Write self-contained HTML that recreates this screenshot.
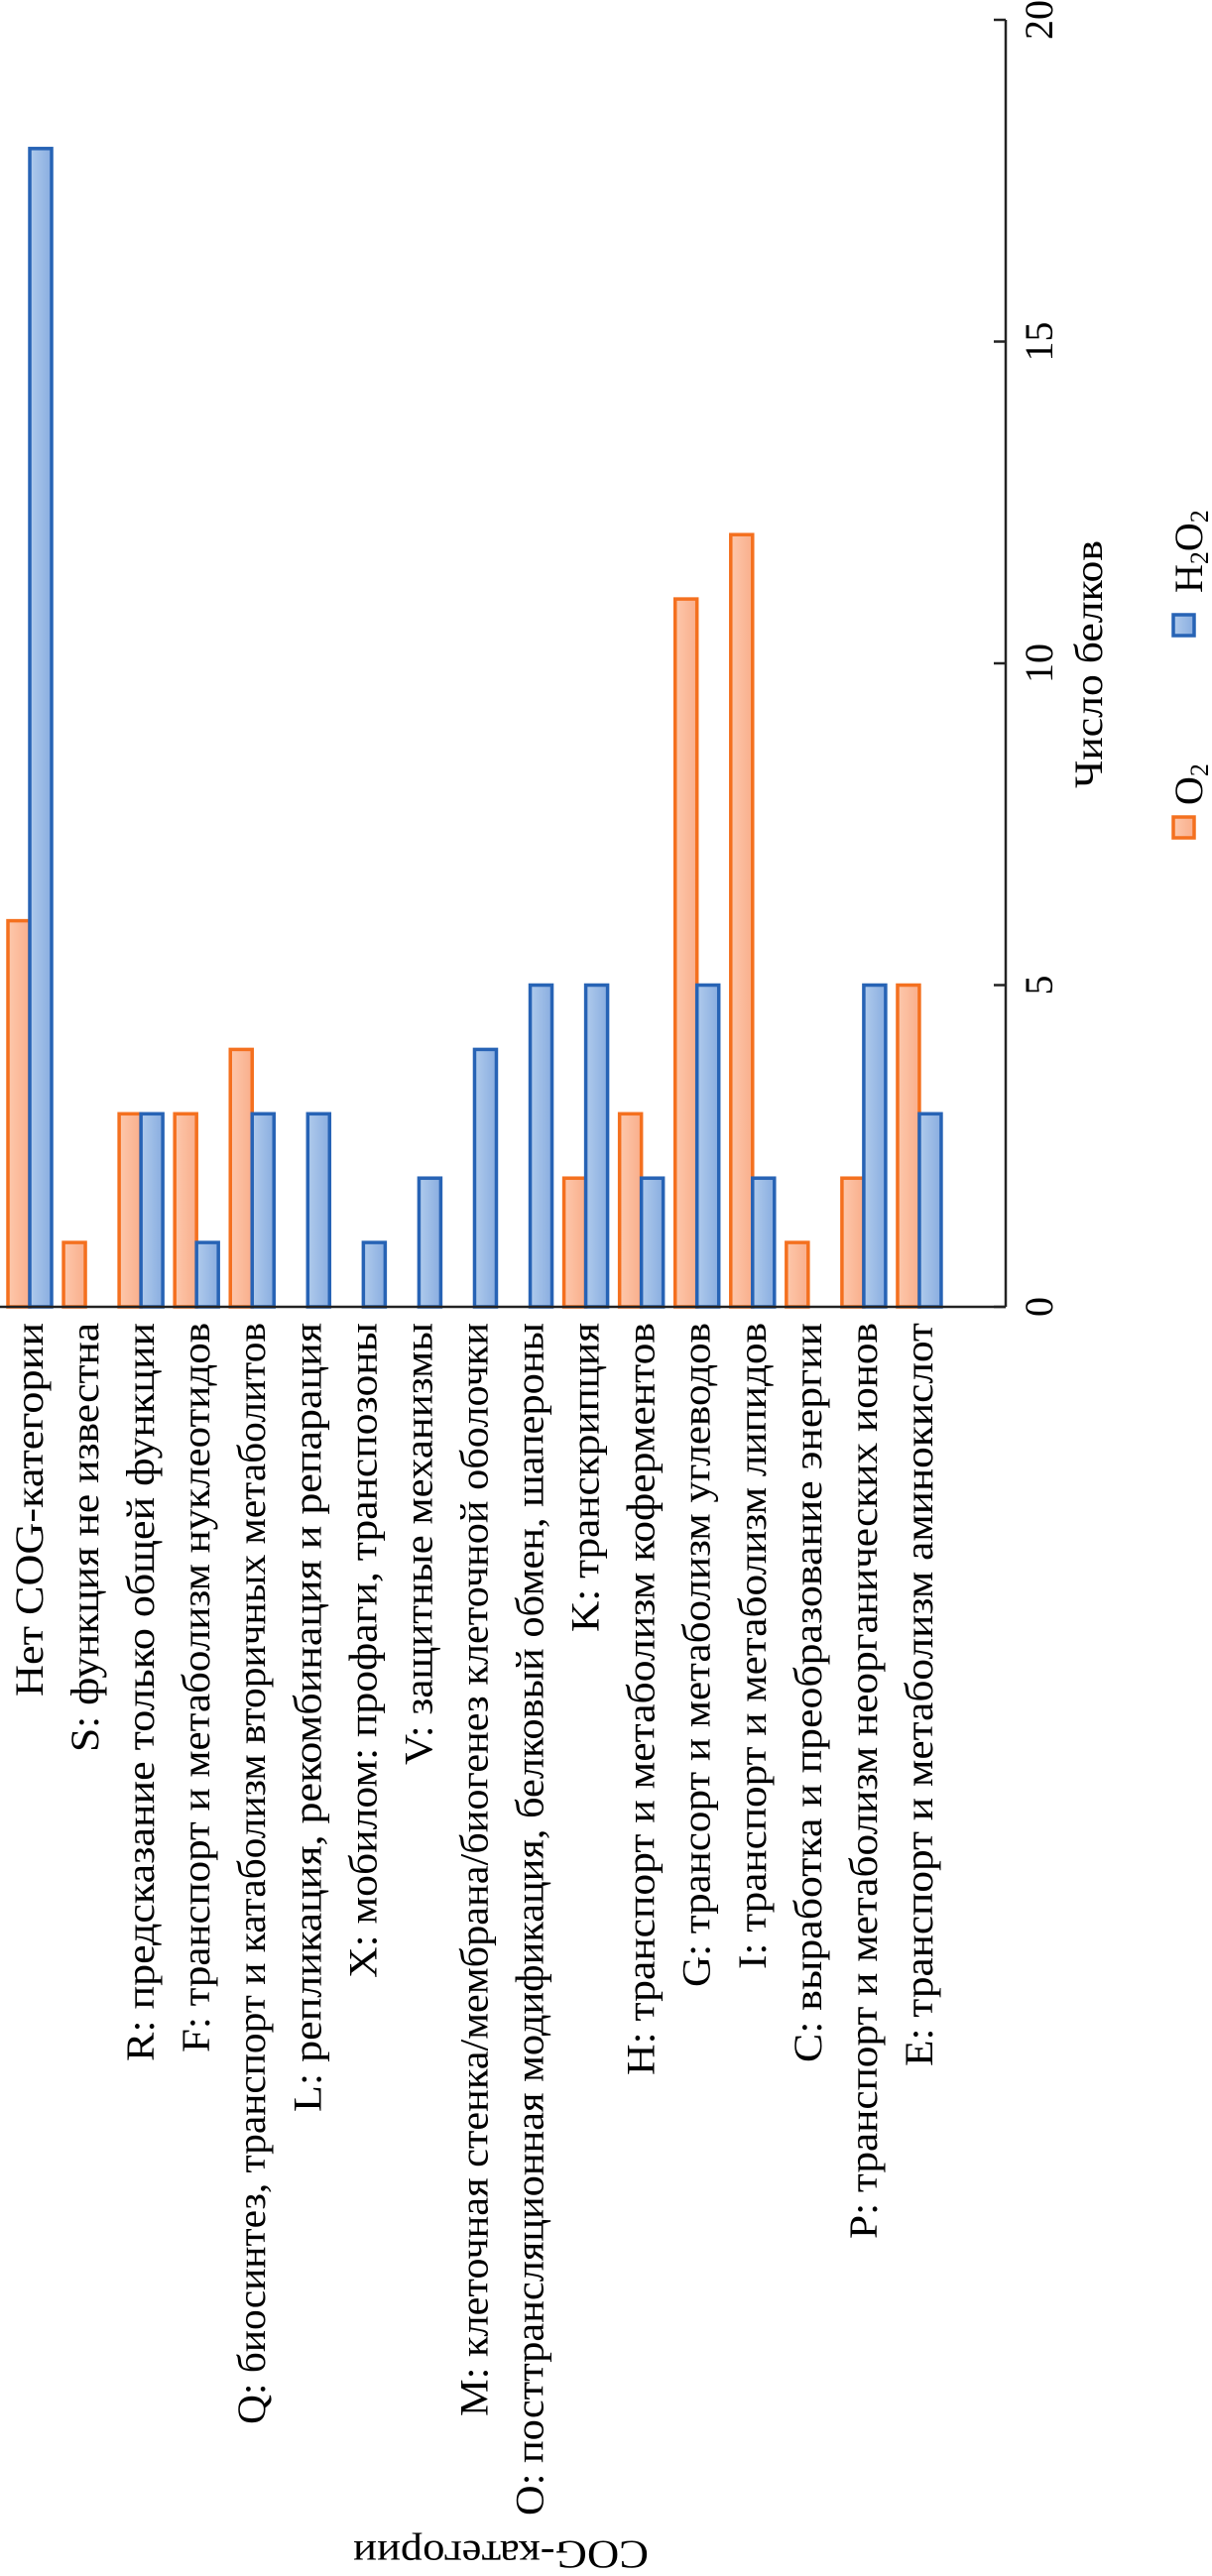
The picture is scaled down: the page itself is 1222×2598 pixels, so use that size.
<!DOCTYPE html>
<html><head><meta charset="utf-8"><style>
html,body{margin:0;padding:0;background:#fff;}
svg{display:block;font-family:"Liberation Serif",serif;}
</style></head><body>
<svg id="chart" width="1222" height="2598" viewBox="0 0 1222 2598" xmlns="http://www.w3.org/2000/svg">
<defs>
<linearGradient id="gO" x1="0" x2="1" y1="0" y2="0"><stop offset="0" stop-color="#fdc8ac"/><stop offset="1" stop-color="#f9ae8b"/></linearGradient>
<linearGradient id="gH" x1="0" x2="1" y1="0" y2="0"><stop offset="0" stop-color="#b0cbec"/><stop offset="1" stop-color="#89ade0"/></linearGradient>
</defs>
<g id="bars"></g>
<g id="axes"></g>
<g id="labels"></g>
<text transform="translate(1111,670) rotate(-90)" text-anchor="middle" font-size="40" textLength="250" lengthAdjust="spacingAndGlyphs">Число белков</text>
<text transform="translate(505,2563) rotate(180)" text-anchor="middle" font-size="40" textLength="298" lengthAdjust="spacingAndGlyphs">COG-категории</text>
<g>
<rect x="1183" y="824" width="21" height="21" fill="url(#gO)" stroke="#f4701f" stroke-width="3.5"/>
<text transform="translate(1212,812) rotate(-90)" font-size="40">O<tspan font-size="26" dy="6">2</tspan></text>
<rect x="1183" y="620" width="21" height="21" fill="url(#gH)" stroke="#2763b5" stroke-width="3.5"/>
<text transform="translate(1212,598) rotate(-90)" font-size="40">H<tspan font-size="26" dy="6">2</tspan><tspan dy="-6">O</tspan><tspan font-size="26" dy="6">2</tspan></text>
</g>
</svg>
<script>
const categories = ["Нет COG-категории","S: функция не известна","R: предсказание только общей функции","F: транспорт и метаболизм нуклеотидов","Q: биосинтез, транспорт и катаболизм вторичных метаболитов","L: репликация, рекомбинация и репарация","X: мобилом: профаги, транспозоны","V: защитные механизмы","M: клеточная стенка/мембрана/биогенез клеточной оболочки","O: посттрансляционная модификация, белковый обмен, шапероны","K: транскрипция","H: транспорт и метаболизм коферментов","G: трансорт и метаболизм углеводов","I: транспорт и метаболизм липидов","C: выработка и преобразование энергии","P: транспорт и метаболизм неорганических ионов","E: транспорт и метаболизм аминокислот"];
const o2Values = [6,1,3,3,4,0,0,0,0,0,2,3,11,12,1,2,5];
const h2o2Values = [18,0,3,1,3,3,1,2,4,5,5,2,5,2,0,5,3];
const tickValues = [0,5,10,15,20];
const labelLengths = [377,433,745,736,1111,796,661,446,1103,1203,312,759,670,652,746,924,750];

const NS="http://www.w3.org/2000/svg";
const y0=1318, yTop=20, vMax=20;
function yScale(v){return y0-(y0-yTop)*v/vMax;}
function xCenter(i){return 30+56.06*i;}
const bw=22;
function mk(tag,attrs,parent){const e=document.createElementNS(NS,tag);for(const k in attrs)e.setAttribute(k,attrs[k]);parent.appendChild(e);return e;}
const bars=document.getElementById('bars'),axes=document.getElementById('axes'),labels=document.getElementById('labels');
categories.forEach((c,i)=>{
  const cx=xCenter(i);
  if(o2Values[i]>0){
    const r=mk('rect',{x:cx-bw,y:yScale(o2Values[i]),width:bw,height:y0-yScale(o2Values[i]),fill:'url(#gO)',stroke:'#f4701f','stroke-width':3.5},bars);
    
    
  }
  if(h2o2Values[i]>0){
    const r=mk('rect',{x:cx,y:yScale(h2o2Values[i]),width:bw,height:y0-yScale(h2o2Values[i]),fill:'url(#gH)',stroke:'#2763b5','stroke-width':3.5},bars);
    
    
  }
  const t=mk('text',{transform:`translate(${cx+13},1334) rotate(-90)`,'text-anchor':'end','font-size':40,textLength:labelLengths[i],lengthAdjust:'spacingAndGlyphs'},labels);
  t.textContent=c;
  
  
});
const xl=mk('line',{x1:0,y1:y0,x2:1014,y2:y0,stroke:'#222','stroke-width':2.5},axes);


const yl=mk('line',{x1:1014,y1:yTop,x2:1014,y2:y0,stroke:'#222','stroke-width':2.5},axes);


tickValues.forEach(v=>{
  const y=yScale(v);
  const tk=mk('line',{x1:1002,y1:y,x2:1014,y2:y,stroke:'#222','stroke-width':2.5},axes);
  
  
  const tl=mk('text',{transform:`translate(1061,${y}) rotate(-90)`,'text-anchor':'middle','font-size':40},axes);
  tl.textContent=String(v);
  
  
});
</script>
</body></html>
